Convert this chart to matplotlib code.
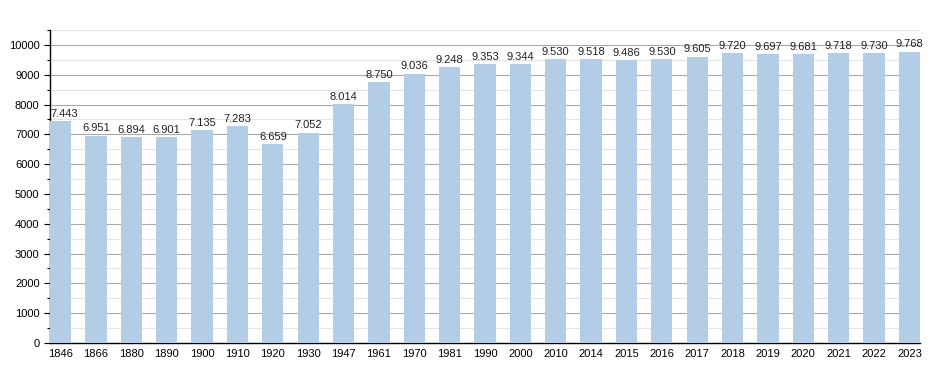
import matplotlib
matplotlib.use("Agg")
import matplotlib.pyplot as plt
from matplotlib.ticker import MultipleLocator

# annees et population
annees = ["1846", "1866", "1880", "1890", "1900", "1910", "1920", "1930", "1947", "1961",
          "1970", "1981", "1990", "2000", "2010", "2014", "2015", "2016", "2017", "2018",
          "2019", "2020", "2021", "2022", "2023"]
population = [7443, 6951, 6894, 6901, 7135, 7283, 6659, 7052, 8014, 8750,
              9036, 9248, 9353, 9344, 9530, 9518, 9486, 9530, 9605, 9720,
              9697, 9681, 9718, 9730, 9768]

plt.rcParams['font.family'] = ['Liberation Sans', 'DejaVu Sans']

fig = plt.figure(figsize=(9.5, 3.73), dpi=100)
ax = fig.add_axes([50 / 950, 30 / 373, 870 / 950, 313 / 373])

x = range(len(annees))
ax.bar(x, population, width=0.6, color="#b3cde6", zorder=3)

# etiquettes au-dessus des barres (separateur de milliers avec un point)
for i, v in enumerate(population):
    txt = f"{v:,}".replace(",", ".")
    if i == 0:
        # la premiere etiquette reste dans la zone du graphique
        ax.text(-0.3, v + 80, txt, ha="left", va="bottom", fontsize=8, color="#222222",
                zorder=5, clip_on=False)
    else:
        ax.text(i, v + 80, txt, ha="center", va="bottom", fontsize=8, color="#222222",
                zorder=5, clip_on=False)

ax.set_xlim(-0.3, len(annees) - 0.7)
ax.set_ylim(0, 10500)
ax.set_xticks(list(x))
ax.set_xticklabels(annees, fontsize=8)
ax.yaxis.set_major_locator(MultipleLocator(1000))
ax.yaxis.set_minor_locator(MultipleLocator(500))
ax.tick_params(axis="y", labelsize=8, length=4, width=0.8, which="major")
ax.tick_params(axis="y", length=2.5, width=0.8, which="minor")
ax.tick_params(axis="x", length=0, pad=4)

ax.grid(axis="y", which="major", color="#a8a8a8", linewidth=0.8, zorder=0)
ax.grid(axis="y", which="minor", color="#e4e4e4", linewidth=0.8, zorder=0)
ax.axhline(10500, color="#e4e4e4", linewidth=0.8, zorder=0)

for s in ["top", "right"]:
    ax.spines[s].set_visible(False)
ax.spines["left"].set_linewidth(1)
ax.spines["bottom"].set_linewidth(1)

plt.savefig("out.png", dpi=100)
